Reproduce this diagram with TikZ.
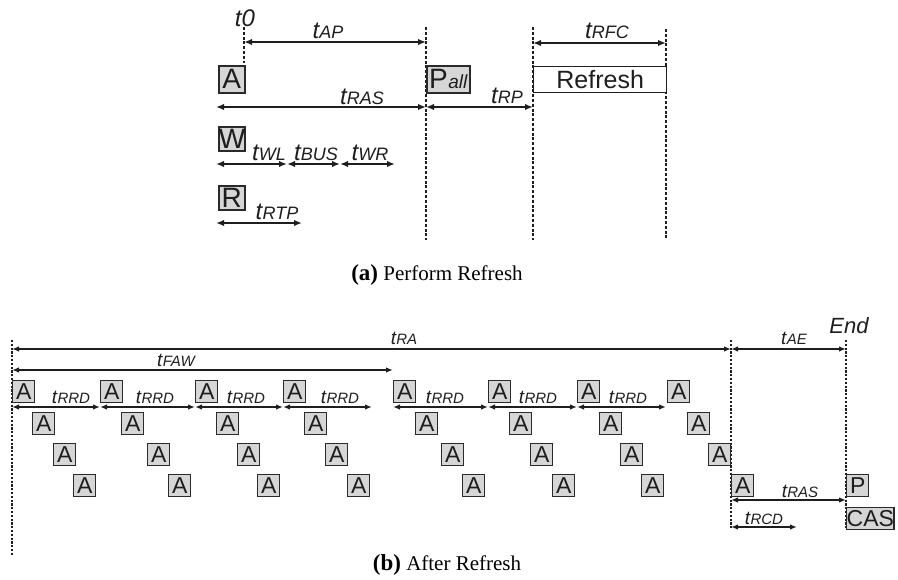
\documentclass[tikz,border=0pt]{standalone}
\usepackage{fontspec}
\setmainfont{Liberation Sans}
\newfontfamily\capfont{Liberation Serif}
\usetikzlibrary{arrows.meta}
\definecolor{boxgray}{HTML}{D6D6D6}
\definecolor{boxline}{HTML}{2A2A2A}
\definecolor{ink}{HTML}{1E1E1E}
\newcommand\Tlab[1]{\itshape t\kern0.3pt{\fontsize{18}{18}\selectfont #1}}
\newcommand\Blab[1]{\itshape t\kern0.3pt{\fontsize{15}{15}\selectfont #1}}
\tikzset{
  bigbox/.style={draw=boxline, line width=1.6pt, fill=boxgray, inner sep=0pt, anchor=north west,
    minimum height=27pt, minimum width=26pt, font=\fontsize{28}{28}\selectfont, text=ink},
  abox/.style={draw=boxline, line width=1.4pt, fill=boxgray, inner sep=0pt, anchor=north west,
    minimum height=22pt, minimum width=22pt, font=\fontsize{23}{23}\selectfont, text=ink},
  dline/.style={draw=ink, line width=2pt, dash pattern=on 3pt off 1.8pt},
  dlinethin/.style={draw=ink, line width=1.5pt, dash pattern=on 2.2pt off 1.6pt},
  tarrow/.style={draw=ink, line width=2.5pt, {Latex[length=8pt,width=6.5pt]}-{Latex[length=8pt,width=6.5pt]}},
  barrow/.style={draw=ink, line width=2pt, {Latex[length=7pt,width=5.5pt]}-{Latex[length=7pt,width=5.5pt]}},
  tlabel/.style={font=\fontsize{24}{24}\selectfont, text=ink, inner sep=0pt},
  blabel/.style={font=\fontsize{19}{19}\selectfont, text=ink, inner sep=0pt},
  caption/.style={font=\capfont\fontsize{21}{21}\selectfont, text=black, inner sep=0pt}
}
\begin{document}
\begin{tikzpicture}[x=1pt,y=-1pt]
\useasboundingbox (0,0) rectangle (898,580);
% ---------- (a) ----------
\coordinate (d0t) at (244,27); \coordinate (d0b) at (244,63);
\coordinate (d1t) at (426,27); \coordinate (d1b) at (426,240);
\coordinate (d2t) at (533,27); \coordinate (d2b) at (533,240);
\coordinate (d3t) at (666,29); \coordinate (d3b) at (666,240);
\draw[dline] (d0t) -- (d0b);
\draw[dline] (d1t) -- (d1b);
\draw[dline] (d2t) -- (d2b);
\draw[dline] (d3t) -- (d3b);

\node[tlabel] (t0) at (245,18) {\itshape t0};
\node[tlabel] (lAP) at (328,31) {\Tlab{AP}};
\node[tlabel] (lRFC) at (607,31) {\Tlab{RFC}};
\node[tlabel] (lRAS) at (362,97) {\Tlab{RAS}};
\node[tlabel] (lRP) at (507,96) {\Tlab{RP}};

\coordinate (apL) at (244,42); \coordinate (apR) at (426,42);
\coordinate (rfcL) at (533,43); \coordinate (rfcR) at (666,43);
\coordinate (rasL) at (216,107); \coordinate (rasR) at (426,107);
\coordinate (rpR) at (533,107);
\draw[tarrow] (apL) -- (apR);
\draw[tarrow] (rfcL) -- (rfcR);
\draw[tarrow] (rasL) -- (rasR);
\draw[tarrow] (rasR) -- (rpR);

\node[bigbox] (A0) at (218,65) {A};
\node[bigbox, minimum width=43pt] (Pall) at (426,65) {P\kern0.5pt{\itshape\fontsize{19}{19}\selectfont all}};
\node[draw=ink, line width=1.4pt, fill=white, inner sep=0pt, anchor=north west,
      minimum width=133pt, minimum height=26pt, font=\fontsize{25}{25}\selectfont, text=ink] (ref) at (533,66) {Refresh};

\node[bigbox, minimum height=24pt] (W) at (218,126) {W};
\coordinate (wA) at (216,164); \coordinate (wB) at (287,164);
\coordinate (wC) at (340,164); \coordinate (wD) at (395,164);
\draw[tarrow] (wA) -- (wB);
\draw[tarrow] (wB) -- (wC);
\draw[tarrow] (wC) -- (wD);
\node[tlabel] (lWL) at (269,153) {\Tlab{WL}};
\node[tlabel] (lBUS) at (316,153) {\Tlab{BUS}};
\node[tlabel] (lWR) at (370,153) {\Tlab{WR}};

\node[bigbox, minimum height=24pt] (R) at (218,185) {R};
\coordinate (rtpL) at (216,223); \coordinate (rtpR) at (302,223);
\draw[tarrow] (rtpL) -- (rtpR);
\node[tlabel] (lRTP) at (277,212) {\Tlab{RTP}};

\node[caption] (capa) at (437,275) {{\bfseries\fontsize{23}{23}\selectfont (a)} Perform Refresh};

% ---------- (b) ----------
\coordinate (e0t) at (12,340); \coordinate (e0b) at (12,555);
\coordinate (e1t) at (731,340); \coordinate (e1b) at (731,528);
\coordinate (e2t) at (846,340); \coordinate (e2b) at (846,528);
\draw[dlinethin] (e0t) -- (e0b);
\draw[dlinethin] (e1t) -- (e1b);
\draw[dlinethin] (e2t) -- (e2b);

\coordinate (raL) at (12,349); \coordinate (raR) at (731,349);
\coordinate (aeR) at (846,349);
\coordinate (fawL) at (12,370); \coordinate (fawR) at (393,370);
\draw[barrow] (raL) -- (raR);
\draw[barrow] (raR) -- (aeR);
\draw[barrow] (fawL) -- (fawR);
\node[blabel] (lRA) at (404,338) {\Blab{RA}};
\node[blabel] (lAE) at (794,338) {\Blab{AE}};
\node[blabel, font=\fontsize{22}{22}\selectfont] (lEnd) at (849,326) {\itshape End};
\node[blabel] (lFAW) at (176,360) {\Blab{FAW}};

% A boxes, four rows
\foreach \x [count=\i] in {12,100,195,283,393,488,577,667}
  \node[abox] (r1a\i) at (\x,380) {A};
\foreach \x [count=\i] in {32,121,216,304,415,509,599,687}
  \node[abox] (r2a\i) at (\x,412) {A};
\foreach \x [count=\i] in {53,147,237,325,441,530,620,708}
  \node[abox] (r3a\i) at (\x,443) {A};
\foreach \x [count=\i] in {73,168,257,347,462,552,641,731}
  \node[abox] (r4a\i) at (\x,474) {A};

% tRRD arrows
\foreach \a/\b in {12/100,100/195,195/283,283/372,393/488,488/577,577/666}
  \draw[barrow] (\a,407) -- (\b,407);
\foreach \x [count=\i] in {71,155,246,340,445,538,628}
  \node[blabel] (lRRD\i) at (\x,397) {\Blab{RRD}};

\node[abox] (P) at (846,474) {P};
\node[abox, minimum width=47pt] (CAS) at (846,507) {CAS};

\coordinate (brasL) at (731,500); \coordinate (brasR) at (846,500);
\draw[barrow] (brasL) -- (brasR);
\node[blabel] (lbRAS) at (800,491) {\Blab{RAS}};
\coordinate (rcdL) at (731,527); \coordinate (rcdR) at (797,527);
\draw[barrow] (rcdL) -- (rcdR);
\node[blabel] (lRCD) at (764,518) {\Blab{RCD}};

\node[caption] (capb) at (447,565) {{\bfseries\fontsize{23}{23}\selectfont (b)} After Refresh};
\end{tikzpicture}
\end{document}
